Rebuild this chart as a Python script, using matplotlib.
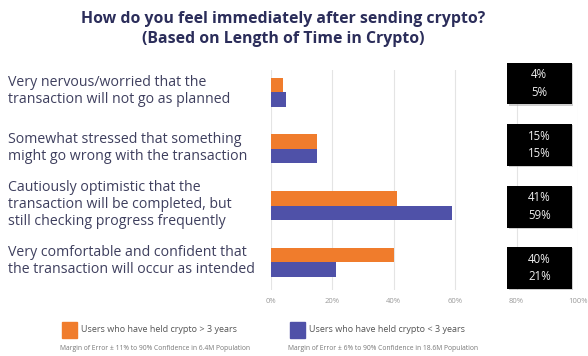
import numpy as np
import matplotlib.pyplot as plt
from matplotlib.patches import Rectangle

plt.rcParams['font.family'] = ['Open Sans', 'DejaVu Sans']

categories = [
    'Very nervous/worried that the\ntransaction will not go as planned',
    'Somewhat stressed that something\nmight go wrong with the transaction',
    'Cautiously optimistic that the\ntransaction will be completed, but\nstill checking progress frequently',
    'Very comfortable and confident that\nthe transaction will occur as intended',
]
over_3y = [4, 15, 41, 40]
under_3y = [5, 15, 59, 21]
xticks = [0, 20, 40, 60, 80, 100]
tick_labels = ['0%', '20%', '40%', '60%', '80%', '100%']

orange = '#F07C2C'
blue = '#4F51A8'
navy = '#2B2D5A'
label_col = '#3E3F5E'

fig = plt.figure(figsize=(5.88, 3.56), dpi=100)
ax = fig.add_axes([0.461, 0.185, 0.522, 0.618])

y = np.arange(len(categories))
h = 0.256
ax.barh(y - h / 2, over_3y, height=h, color=orange, zorder=2)
ax.barh(y + h / 2, under_3y, height=h, color=blue, zorder=2)

ax.set_xlim(0, 100)
ax.set_ylim(3.49, -0.39)
ax.set_xticks(xticks)
ax.set_xticklabels(tick_labels, fontsize=5.5, color='#9a9a9a')
ax.set_yticks([])
ax.tick_params(axis='x', length=0, pad=6)
ax.grid(axis='x', color='#e4e4e4', linewidth=0.8, zorder=0)
for s in ax.spines.values():
    s.set_visible(False)

# black value boxes on the right
for i in range(len(categories)):
    yc = -0.134 + i * 1.085
    ax.add_patch(Rectangle((77.5, yc - 0.37), 21, 0.74, facecolor='#b0b0b0',
                           edgecolor='none', zorder=3, clip_on=False, alpha=0.6))
    ax.add_patch(Rectangle((76.9, yc - 0.39), 21, 0.74, facecolor='black',
                           edgecolor='none', zorder=4, clip_on=False))
    ax.text(87.4, yc - 0.02, f'{over_3y[i]}%\n{under_3y[i]}%', ha='center', va='center',
            color='#eeeeee', fontsize=8.3, linespacing=1.45, zorder=5)

# category labels
for i, lab in enumerate(categories):
    ax.text(-0.857, y[i] - 0.02, lab, transform=ax.get_yaxis_transform(),
            ha='left', va='center', fontsize=10.2, color=label_col, linespacing=1.15)

fig.text(0.481, 1 - 29 / 356, 'How do you feel immediately after sending crypto?\n(Based on Length of Time in Crypto)',
         ha='center', va='center', fontsize=11.4, fontweight='bold', color=navy, linespacing=1.4)

# legend
fig.patches.append(Rectangle((62 / 588, 1 - 338 / 356), 15 / 588, 16 / 356, color=orange,
                             transform=fig.transFigure))
fig.patches.append(Rectangle((290 / 588, 1 - 338 / 356), 15 / 588, 16 / 356, color=blue,
                             transform=fig.transFigure))
fig.text(81 / 588, 1 - 330 / 356, 'Users who have held crypto > 3 years', fontsize=6.5,
         color='#555555', va='center')
fig.text(309 / 588, 1 - 330 / 356, 'Users who have held crypto < 3 years', fontsize=6.5,
         color='#555555', va='center')
fig.text(60 / 588, 1 - 348 / 356, 'Margin of Error \u00b1 11% to 90% Confidence in 6.4M Population',
         fontsize=4.85, color='#777777', va='center')
fig.text(288 / 588, 1 - 348 / 356, 'Margin of Error \u00b1 6% to 90% Confidence in 18.6M Population',
         fontsize=4.85, color='#777777', va='center')

fig.savefig('out.png', dpi=100, facecolor='white')
